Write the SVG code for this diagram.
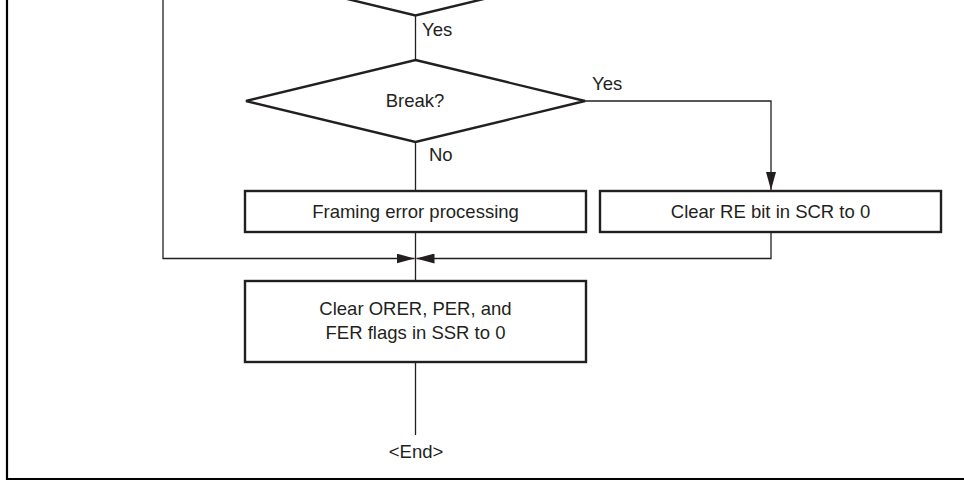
<svg xmlns="http://www.w3.org/2000/svg" width="964" height="481" viewBox="0 0 964 481">
<style>
.box{fill:#fff;stroke:#231f20;stroke-width:2.4}
.dia{fill:#fff;stroke:#231f20;stroke-width:2.4;stroke-linejoin:miter}
.ln{fill:none;stroke:#231f20;stroke-width:1.3}
.frame{fill:none;stroke:#000;stroke-width:2.2}
text{font-family:"Liberation Sans",Arial,sans-serif;font-size:18.5px;fill:#231f20}
.c{text-anchor:middle}
</style>
<defs>
<marker id="ah" markerWidth="18" markerHeight="10" refX="18" refY="5" orient="auto" markerUnits="userSpaceOnUse">
<path d="M0,0 L18,5 L0,10 Z" fill="#231f20"/>
</marker>
</defs>
<path class="frame" d="M7,0 V479 H964"/>
<g id="connectors">
<line class="ln" x1="415.5" y1="15" x2="415.5" y2="61"/>
<line class="ln" x1="415.5" y1="142" x2="415.5" y2="191"/>
<polyline class="ln" points="585,101 771,101 771,190" marker-end="url(#ah)"/>
<polyline class="ln" points="163,0 163,258.5 414.5,258.5" marker-end="url(#ah)"/>
<polyline class="ln" points="771,232 771,258.5 416.5,258.5" marker-end="url(#ah)"/>
<line class="ln" x1="415.5" y1="232" x2="415.5" y2="281"/>
<line class="ln" x1="415.5" y1="362" x2="415.5" y2="435"/>
<text x="422" y="36">Yes</text>
<text x="592" y="90">Yes</text>
<text x="429" y="161">No</text>
</g>
<g id="decision1">
<polygon class="dia" points="415.5,-66.5 585,-25.5 415.5,15.5 246,-25.5"/>
</g>
<g id="break">
<polygon class="dia" points="415.5,60 585,101 415.5,142 246,101"/>
<text class="c" x="415" y="107">Break?</text>
</g>
<g id="framing">
<rect class="box" x="245" y="191" width="341" height="41"/>
<text class="c" x="415.5" y="218">Framing error processing</text>
</g>
<g id="clearRE">
<rect class="box" x="600" y="191" width="341" height="41"/>
<text class="c" x="770.5" y="218">Clear RE bit in SCR to 0</text>
</g>
<g id="clearFlags">
<rect class="box" x="245" y="281" width="341" height="81"/>
<text class="c" x="415.5" y="315">Clear ORER, PER, and</text>
<text class="c" x="415.5" y="339">FER flags in SSR to 0</text>
</g>
<g id="end">
<text class="c" x="416" y="458">&lt;End&gt;</text>
</g>
</svg>
